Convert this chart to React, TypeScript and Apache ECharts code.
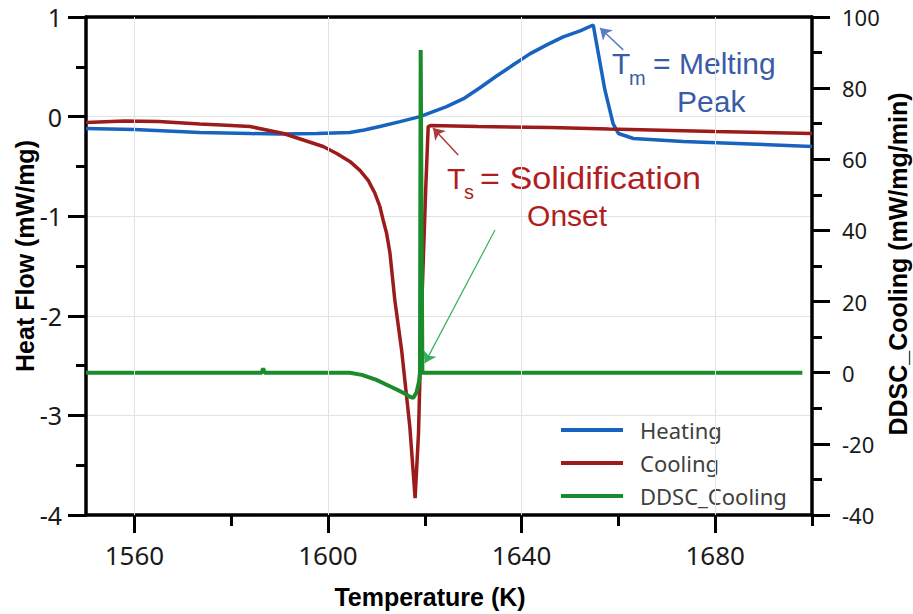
import React, { useEffect, useRef } from "react";
import * as echarts from "echarts";

// ---- axes ----
const xMin = 1550;
const xMax = 1700;
const xTicksMajor = [1560, 1600, 1640, 1680];
const xTicksMinor = [1580, 1620, 1660, 1700];
const leftMin = -4;
const leftMax = 1;
const rightMin = -40;
const rightMax = 100;

// ---- series (temperature K, value) ----
const heatingT = [1550, 1560, 1573.5, 1584, 1590, 1597.7, 1604.5, 1607.5, 1610.7, 1614.9, 1619.0, 1624.5, 1628.0, 1631.4, 1634.9, 1638.3, 1641.7, 1645.2, 1648.6, 1652.1, 1654.8, 1657.2, 1658.9, 1660.0, 1663.1, 1673.4, 1687.2, 1700];
const heatingV = [-0.12, -0.13, -0.16, -0.17, -0.175, -0.17, -0.16, -0.135, -0.1, -0.05, 0.0, 0.1, 0.18, 0.29, 0.41, 0.52, 0.63, 0.72, 0.8, 0.86, 0.92, 0.27, -0.07, -0.17, -0.22, -0.25, -0.275, -0.3];

const coolingT = [1550, 1558, 1565, 1573.5, 1578, 1583.9, 1590.8, 1594.9, 1599.0, 1601.8, 1604.5, 1606.6, 1608.3, 1609.7, 1610.7, 1611.4, 1612.1, 1612.8, 1613.8, 1615.2, 1616.9, 1618.0, 1618.7, 1619.4, 1620.2, 1620.7, 1621.2, 1631, 1646, 1658, 1680, 1700];
const coolingV = [-0.06, -0.045, -0.05, -0.075, -0.085, -0.1, -0.17, -0.235, -0.3, -0.37, -0.45, -0.54, -0.64, -0.77, -0.9, -1.04, -1.17, -1.37, -1.84, -2.34, -3.11, -3.83, -3.18, -1.85, -0.71, -0.1, -0.09, -0.1, -0.11, -0.125, -0.15, -0.17];

const ddscT = [1550, 1575, 1586.3, 1586.6, 1586.9, 1600, 1604.5, 1607, 1610, 1612, 1614.3, 1616, 1617, 1617.6, 1618.3, 1618.8, 1619.0, 1619.15, 1619.5, 1619.8, 1650, 1698];
const ddscV = [0, 0, 0, 1.2, 0, 0, 0, -0.6, -2, -3.3, -4.8, -6.0, -6.8, -7.1, -5.5, -2.5, 0, 90.7, 0, 0, 0, 0];

// ---- annotations (data coordinates) ----
const tmArrowFrom = [1661.0, 0.67];
const tmArrowTo = [1656.2, 0.89];
const tsArrowFrom = [1626.9, -0.385];
const tsArrowTo = [1621.7, -0.115];
const ddscArrowFrom = [1634.5, 40.1];
const ddscArrowTo = [1620.0, 2.7];
const tmLabelAt = [1658.7, 0.53];
const tsLabelAt = [1624.6, -0.626];

const BLUE = "#1763be";
const RED = "#9c1b1b";
const GREEN = "#1a8c2c";
const TICK_FONT = "Noto Sans";
const TITLE_FONT = "Liberation Sans";
const GRID_COLOR = "#e2e2e2";

export default function App() {
  const ref = useRef<HTMLDivElement>(null);

  useEffect(() => {
    const chart = echarts.init(ref.current!, null, { renderer: "svg" });
    const zip = (a: number[], b: number[]) => a.map((x, i) => [x, b[i]]);
    const black = { color: "#000", width: 3.5 };
    const tickStyle = { color: "#000", width: 3 };
    const arrow = (from: number[], to: number[], color: string, width: number) => ({
      silent: true,
      symbol: ["none", "arrow"],
      symbolSize: 11,
      label: { show: false },
      lineStyle: { color, width, type: "solid" },
      data: [[{ coord: from }, { coord: to }]],
    });

    chart.setOption({
      animation: false,
      backgroundColor: "#fff",
      grid: { left: 86, right: 101, top: 17, bottom: 99, show: false },
      legend: {
        orient: "vertical",
        left: 561,
        top: 419,
        padding: 0,
        itemWidth: 62,
        itemHeight: 4,
        itemGap: 11,
        icon: "rect",
        data: ["Heating", "Cooling", "DDSC_Cooling"],
        textStyle: { fontSize: 22, fontFamily: TICK_FONT, color: "#404040", padding: [0, 0, 0, 12] },
      },
      xAxis: [
        {
          type: "value",
          min: xMin,
          max: xMax,
          interval: 10,
          position: "bottom",
          axisLine: { show: true, onZero: false, lineStyle: black },
          axisTick: { show: true, customValues: xTicksMajor, length: 18, lineStyle: tickStyle },
          axisLabel: {
            customValues: xTicksMajor,
            formatter: (v: number) => String(v),
            margin: 27,
            fontSize: 26,
            fontFamily: TICK_FONT,
            color: "#1a1a1a",
          },
          splitLine: { show: false },
        },
        {
          type: "value",
          min: xMin,
          max: xMax,
          position: "bottom",
          axisLine: { show: false, onZero: false },
          axisTick: { show: true, customValues: xTicksMinor, length: 11, lineStyle: tickStyle },
          axisLabel: { show: false },
          splitLine: { show: false },
        },
        {
          type: "value",
          min: xMin,
          max: xMax,
          position: "top",
          axisLine: { show: true, onZero: false, lineStyle: black },
          axisTick: { show: false },
          axisLabel: { show: false },
          splitLine: { show: false },
        },
      ],
      yAxis: [
        {
          type: "value",
          min: leftMin,
          max: leftMax,
          interval: 1,
          position: "left",
          axisLine: { show: true, onZero: false, lineStyle: black },
          axisTick: { show: true, length: 18, lineStyle: tickStyle },
          minorTick: { show: true, splitNumber: 2, length: 10, lineStyle: tickStyle },
          axisLabel: { margin: 24, fontSize: 25, fontFamily: TICK_FONT, color: "#1a1a1a" },
          splitLine: { show: true, lineStyle: { color: GRID_COLOR, width: 1 } },
        },
        {
          type: "value",
          min: rightMin,
          max: rightMax,
          interval: 20,
          position: "right",
          axisLine: { show: true, onZero: false, lineStyle: black },
          axisTick: { show: true, length: 18, lineStyle: tickStyle },
          minorTick: { show: true, splitNumber: 2, length: 10, lineStyle: tickStyle },
          axisLabel: { margin: 30, fontSize: 22, fontFamily: TICK_FONT, color: "#1a1a1a" },
          splitLine: { show: false },
        },
      ],
      series: [
        {
          name: "xGrid",
          type: "line",
          xAxisIndex: 0,
          yAxisIndex: 0,
          data: [],
          z: 1,
          silent: true,
          markLine: {
            silent: true,
            symbol: ["none", "none"],
            label: { show: false },
            lineStyle: { color: GRID_COLOR, width: 1, type: "solid" },
            data: xTicksMajor.map((v) => ({ xAxis: v })),
          },
        },
        {
          name: "Heating",
          type: "line",
          xAxisIndex: 0,
          yAxisIndex: 0,
          data: zip(heatingT, heatingV),
          showSymbol: false,
          symbol: "none",
          lineStyle: { color: BLUE, width: 3.5 },
          itemStyle: { color: BLUE },
          markLine: arrow(tmArrowFrom, tmArrowTo, "#5b7cc2", 1.5),
        },
        {
          name: "Cooling",
          type: "line",
          xAxisIndex: 0,
          yAxisIndex: 0,
          data: zip(coolingT, coolingV),
          showSymbol: false,
          symbol: "none",
          lineStyle: { color: RED, width: 3.5 },
          itemStyle: { color: RED },
          markLine: arrow(tsArrowFrom, tsArrowTo, "#b03a3a", 1.5),
        },
        {
          name: "DDSC_Cooling",
          type: "line",
          xAxisIndex: 0,
          yAxisIndex: 1,
          data: zip(ddscT, ddscV),
          showSymbol: false,
          symbol: "none",
          lineStyle: { color: GREEN, width: 4 },
          itemStyle: { color: GREEN },
          markLine: arrow(ddscArrowFrom, ddscArrowTo, "#35b05a", 1.2),
        },
      ],
    });

    const toPx = (p: number[]) => chart.convertToPixel({ xAxisIndex: 0, yAxisIndex: 0 }, p) as number[];
    const tm = toPx(tmLabelAt);
    const ts = toPx(tsLabelAt);
    const big = (text: string, x: number, y: number, color: string, size = 30, scaleX = 1) => ({
      type: "text",
      x,
      y,
      scaleX,
      style: { text, fill: color, fontSize: size, fontFamily: TITLE_FONT, align: "left", verticalAlign: "middle" },
    });
    const sub = (text: string, x: number, y: number, color: string) => ({
      type: "text",
      x,
      y,
      style: { text, fill: color, fontSize: 20, fontFamily: TITLE_FONT, align: "left", verticalAlign: "middle" },
    });
    const TM_COLOR = "#3a5ca8";
    const TS_COLOR = "#b01e22";
    const title = (text: string, x: number, y: number, rotation: number) => ({
      type: "text",
      x,
      y,
      rotation,
      style: { text, fill: "#000", fontSize: 25, fontWeight: "bold", fontFamily: TITLE_FONT, align: "center", verticalAlign: "middle" },
    });

    chart.setOption({
      graphic: [
        {
          type: "group",
          x: tm[0],
          y: tm[1],
          children: [
            big("T", 0, 0, TM_COLOR),
            sub("m", 17, 14, TM_COLOR),
            big("= Melting", 41, 0, TM_COLOR),
            big("Peak", 65, 38, TM_COLOR),
          ],
        },
        {
          type: "group",
          x: ts[0],
          y: ts[1],
          children: [
            big("T", 0, 0, TS_COLOR),
            sub("s", 17, 13, TS_COLOR),
            big("= Solidification", 33, 0, TS_COLOR, 31, 1.1),
            big("Onset", 80, 37, TS_COLOR),
          ],
        },
        title("Temperature (K)", 430, 597, 0),
        title("Heat Flow (mW/mg)", 25, 256, Math.PI / 2),
        title("DDSC_Cooling (mW/mg/min)", 898, 264, Math.PI / 2),
      ],
    });

    return () => chart.dispose();
  }, []);

  return <div ref={ref} style={{ position: "fixed", left: 0, top: 0, width: 913, height: 614 }} />;
}
